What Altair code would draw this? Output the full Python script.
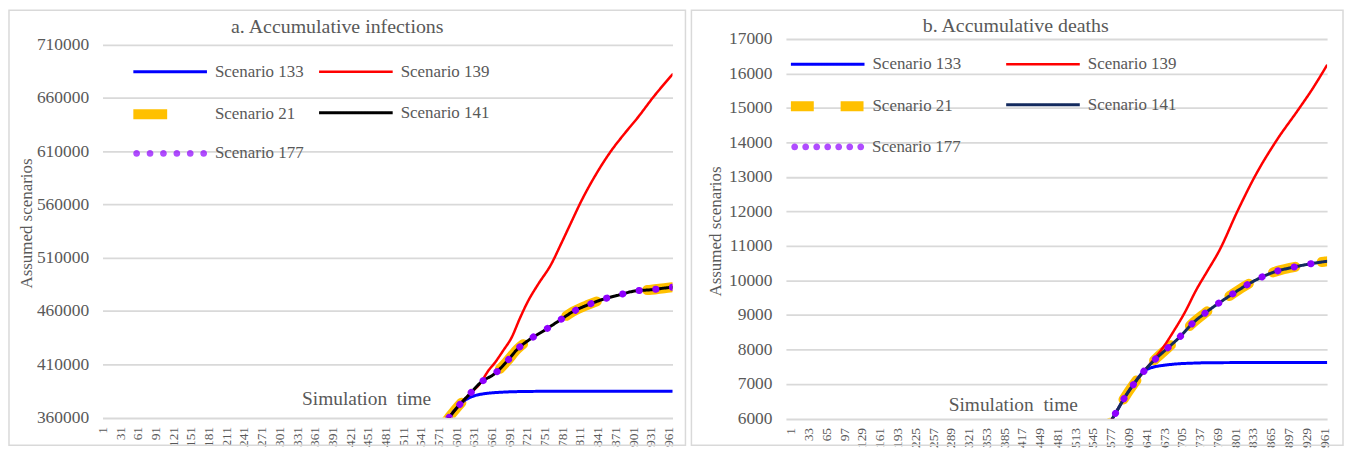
import altair as alt
import pandas as pd

FONT = "Liberation Serif"
TXT = "#595959"
GRID = "#d9d9d9"

# ---------------- shared labels ----------------
series = ["Scenario 133", "Scenario 139", "Scenario 21", "Scenario 141", "Scenario 177"]
line_legend_values = ["Scenario 133", "Scenario 139", "Scenario 21", "Scenario 141"]
dot_series = ["Scenario 177"]
draw_order = ["Scenario 21", "Scenario 133", "Scenario 139", "Scenario 141", "Scenario 177"]
x_title = "Simulation\u00a0 time"
y_title = "Assumed scenarios"

# ---------------- panel a: accumulative infections ----------------
a_title = "a. Accumulative infections"
a_xticks = [1, 31, 61, 91, 121, 151, 181, 211, 241, 271, 301, 331, 361, 391, 421, 451, 481,
            511, 541, 571, 601, 631, 661, 691, 721, 751, 781, 811, 841, 871, 901, 931, 961]
a_yticks = [360000, 410000, 460000, 510000, 560000, 610000, 660000, 710000]

a_common_t = [540, 565, 587, 604, 623, 643, 667, 687, 705, 728, 751, 775, 799, 824, 850, 877, 904, 932, 960, 968]
a_common_v = [327000, 344000, 358800, 370300, 381500, 393000, 401400, 412600, 424200, 434100, 441900,
              450600, 459300, 465600, 470900, 474900, 478700, 479900, 481800, 482200]
a_133_t = [540, 565, 587, 604, 613, 622, 633, 647, 661, 680, 706, 762, 850, 968]
a_133_v = [327000, 344000, 358800, 370300, 375000, 378200, 380600, 382200, 383100, 383800, 384300,
           384600, 384600, 384600]
a_139_t = [540, 565, 587, 604, 623, 643, 655, 667, 681, 695, 709, 723, 740, 762, 779, 796, 813, 838,
           863, 886, 908, 936, 968]
a_139_v = [327000, 344000, 358800, 370300, 381500, 393000, 403500, 411700, 423000, 435000, 453000,
           469300, 485000, 503600, 523000, 543000, 562800, 588000, 609500, 626000, 640700, 661000, 682000]

# ---------------- panel b: accumulative deaths ----------------
b_title = "b. Accumulative deaths"
b_xticks = [1, 33, 65, 97, 129, 161, 193, 225, 257, 289, 321, 353, 385, 417, 449, 481, 513, 545,
            577, 609, 641, 673, 705, 737, 769, 801, 833, 865, 897, 929, 961]
b_yticks = [6000, 7000, 8000, 9000, 10000, 11000, 12000, 13000, 14000, 15000, 16000, 17000]

b_common_t = [555, 570, 586, 602, 618, 637, 658, 680, 702, 723, 746, 769, 794, 820, 847, 873, 902, 932, 961, 966]
b_common_v = [5300, 5720, 6164, 6608, 6991, 7375, 7732, 8049, 8375, 8741, 9046, 9317, 9585, 9853,
              10084, 10256, 10372, 10470, 10545, 10555]
b_133_t = [555, 570, 586, 602, 618, 637, 650, 661, 671, 686, 701, 725, 754, 800, 966]
b_133_v = [5300, 5720, 6164, 6608, 6991, 7375, 7473, 7515, 7539, 7568, 7588, 7605, 7617, 7620, 7620]
b_139_t = [555, 570, 586, 602, 618, 637, 658, 673, 689, 712, 730, 750, 772, 805, 838, 874, 916, 940, 966]
b_139_v = [5300, 5720, 6164, 6608, 6991, 7375, 7780, 8100, 8499, 9124, 9700, 10250, 10853, 12006,
           13063, 14023, 14983, 15550, 16233]


def build_df(ct, cv, t133, v133, t139, v139):
    rows = []
    for s in draw_order:
        if s == "Scenario 133":
            ts, vs = t133, v133
        elif s == "Scenario 139":
            ts, vs = t139, v139
        else:
            ts, vs = ct, cv
        for t, v in zip(ts, vs):
            rows.append({"series": s, "t": t, "v": v})
    return pd.DataFrame(rows)


df_a = build_df(a_common_t, a_common_v, a_133_t, a_133_v, a_139_t, a_139_v)
df_b = build_df(b_common_t, b_common_v, b_133_t, b_133_v, b_139_t, b_139_v)


def dot_path(centers, r):
    parts = []
    for c in centers:
        parts.append(f"M{c - r:.3f},0a{r},{r} 0 1,0 {2 * r},0a{r},{r} 0 1,0 {-2 * r},0Z")
    return "".join(parts)


def panel(df, title, xdom, xticks, ydom, yticks, w, h, colors, dashes, widths, dash_off,
          leg1, leg2, dot_centers, simx, simy, ytx, yty, ttx, tty, frame):
    lx, ly, colpad, rowpad, labeloff = leg1
    dx, dy, dlabeloff = leg2
    leg = alt.Legend(orient="none", legendX=lx, legendY=ly, columns=2, direction="horizontal",
                     title=None, padding=0, values=line_legend_values,
                     symbolType="M-7.4,0H7.4", symbolSize=100, labelOffset=labeloff,
                     columnPadding=colpad, rowPadding=rowpad, labelFont=FONT, labelFontSize=17,
                     labelColor=TXT, labelLimit=300)
    dleg = alt.Legend(orient="none", legendX=dx, legendY=dy, title=None, padding=0,
                      symbolType=dot_path(dot_centers, 0.68), symbolSize=100,
                      symbolStrokeWidth=0, labelOffset=dlabeloff, labelFont=FONT,
                      labelFontSize=17, labelColor=TXT, labelLimit=300)

    xenc = alt.X("t:Q", scale=alt.Scale(domain=xdom, nice=False, zero=False),
                 axis=alt.Axis(values=xticks, labelAngle=270, grid=False, ticks=False, domain=False,
                               labelFont=FONT, labelFontSize=13.5, labelColor=TXT, labelPadding=9,
                               labelOverlap=False, labelFlush=False,
                               title=x_title, titleFont=FONT, titleFontSize=19.5,
                               titleFontWeight="normal", titleColor=TXT, titleX=simx, titleY=simy,
                               titleAlign="center", titleBaseline="middle"))
    yenc = alt.Y("v:Q", scale=alt.Scale(domain=ydom, nice=False, zero=False),
                 axis=alt.Axis(values=yticks, format="d", grid=True, gridColor=GRID, gridWidth=1.8,
                               ticks=False, domain=False, labelFont=FONT, labelFontSize=17.5,
                               labelColor=TXT, labelPadding=14, title=y_title, titleFont=FONT,
                               titleFontSize=17, titleFontWeight="normal", titleColor=TXT,
                               titleX=ytx, titleY=yty, titleAngle=270, titleAlign="center",
                               titleBaseline="middle"))

    lines = alt.Chart(df).mark_line(clip=True, strokeCap="round", strokeJoin="round",
                                    interpolate="monotone", strokeDashOffset=dash_off).encode(
        x=xenc,
        y=yenc,
        color=alt.Color("series:N", scale=alt.Scale(domain=series, range=colors), legend=leg),
        strokeDash=alt.StrokeDash("series:N", scale=alt.Scale(domain=series, range=dashes), legend=leg),
        strokeWidth=alt.StrokeWidth("series:N", scale=alt.Scale(type="ordinal", domain=series, range=widths),
                                    legend=leg),
    )

    # legend carrier for the dotted series: only its points below the y range (all clipped away)
    dots_key = alt.Chart(df).transform_filter(
        (alt.datum.series == dot_series[0]) & (alt.datum.v < ydom[0])
    ).mark_point(filled=True, clip=True).encode(
        x=xenc, y=yenc,
        fill=alt.Fill("series:N", scale=alt.Scale(domain=dot_series, range=[colors[4]]), legend=dleg),
    )

    border = alt.Chart(pd.DataFrame({"k": [0]})).mark_rect(
        fillOpacity=0, stroke=GRID, strokeWidth=1.5).encode(
        x=alt.value(frame[0]), x2=alt.value(frame[1]), y=alt.value(frame[2]), y2=alt.value(frame[3]))

    ttl = alt.Chart(pd.DataFrame({"label": [title]})).mark_text(
        font=FONT, fontSize=20, color=TXT, align="center", baseline="middle").encode(
        text="label:N", x=alt.value(ttx), y=alt.value(tty))

    return alt.layer(border, ttl, lines, dots_key).properties(width=w, height=h)


wa, ha = 573, 380.5
wb, hb = 544, 381.5
left = panel(df_a, a_title, [1, 968], a_xticks, [360000, 715140], a_yticks, wa, ha,
             ["#0000ff", "#ff0000", "#ffc000", "#000000", "#8f00ff"],
             [[1, 0], [1, 0], [34, 52], [1, 0], [0.1, 16.7]], [3, 2.5, 10, 3, 7], 55,
             (58, 24.2, 8.7, 14.5, 35), (59.5, 106.5, 36.5),
             [-6.74, -4.04, -1.35, 1.35, 4.04, 6.74],
             265, -19.5, -76, 185, 236, -12.5,
             (-94, wa + 13, -29, ha + 28))
right = panel(df_b, b_title, [-8, 966.5], b_xticks, [6000, 17000], b_yticks, wb, hb,
              ["#0000ff", "#ff0000", "#ffc000", "#132a5e", "#8f00ff"],
              [[1, 0], [1, 0], [23, 27], [1, 0], [0.1, 16.9]], [3, 2.5, 10, 3, 7], 0,
              (32, 16.6, 38.4, 14, 35), (33.5, 100, 36),
              [-6.64, -4.43, -2.21, 0, 2.21, 4.43, 6.64],
              228, -14, -71, 193, 231, -13.4,
              (-95, wb + 16, -29, hb + 27))

chart = alt.hconcat(left, right, spacing=4).resolve_scale(
    color="independent", fill="independent", strokeDash="independent", strokeWidth="independent",
    x="independent", y="independent"
).resolve_legend(
    color="independent", fill="independent", strokeDash="independent", strokeWidth="independent"
).properties(padding=0).configure_view(stroke=None)

chart.save("out.html", embed_options={"renderer": "svg", "actions": False})
